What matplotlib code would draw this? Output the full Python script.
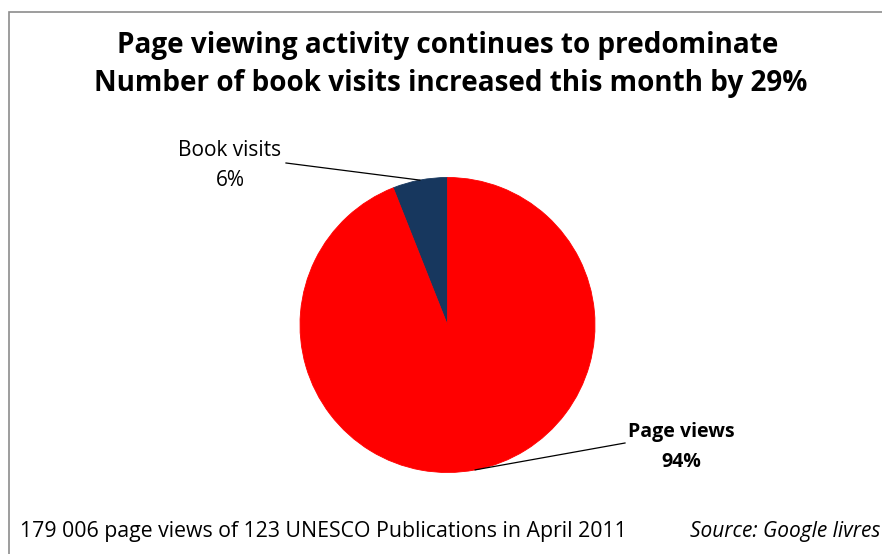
import matplotlib
matplotlib.use("Agg")
import matplotlib.pyplot as plt
import numpy as np
from matplotlib.patches import Rectangle
from matplotlib.lines import Line2D

labels = ["Book visits", "Page views"]
values = [6, 94]
colors = ["#17375E", "#FF0000"]
title_lines = ["Page viewing activity continues to predominate",
               "Number of book visits increased this month by 29%"]
footer_left = "179 006 page views of 123 UNESCO Publications in April 2011"
footer_right = "Source: Google livres"

W, H = 882, 554
fig = plt.figure(figsize=(W / 100, H / 100), dpi=100)
plt.rcParams['font.family'] = ['Open Sans', 'DejaVu Sans']

def fx(px):
    return px / W

def fy(py):
    return 1 - py / H

# border
fig.patches.append(Rectangle((fx(9), fy(600)), 2.0, fy(12) - fy(600),
                             transform=fig.transFigure, fill=False,
                             edgecolor="#8c8c8c", linewidth=1.2))

cx, cy, r = 447.5, 325, 147.5
ax = fig.add_axes([fx(cx - r), fy(cy + r), 2 * r / W, 2 * r / H])
wedges, _ = ax.pie(values, colors=colors, startangle=90, counterclock=True,
                   radius=1, wedgeprops=dict(linewidth=0.6))
for w in wedges:
    w.set_edgecolor(w.get_facecolor())
ax.set_xlim(-1, 1)
ax.set_ylim(-1, 1)
ax.set_aspect("equal")
ax.axis("off")

fig.text(fx(448), fy(45), title_lines[0], ha="center", va="center",
         fontsize=20.1, fontweight="bold")
fig.text(fx(451), fy(84), title_lines[1], ha="center", va="center",
         fontsize=20.1, fontweight="bold")

# labels with leader lines
label_pos = [(230, 150, 181, 286, 163, "normal", 15), (681, 432, 462, 625, 443, "bold", 14)]
for w, lab, v, (lx, ly1, ly2, ex, ey, fw, fs) in zip(wedges, labels, values, label_pos):
    ang = np.deg2rad((w.theta1 + w.theta2) / 2)
    px = cx + r * np.cos(ang)
    py = cy - r * np.sin(ang)
    fig.add_artist(Line2D([fx(px), fx(ex)], [fy(py), fy(ey)],
                          transform=fig.transFigure, color="black", linewidth=0.9))
    fig.text(fx(lx), fy(ly1), lab, ha="center", va="center", fontsize=fs, fontweight=fw)
    fig.text(fx(lx), fy(ly2), f"{v}%", ha="center", va="center", fontsize=fs, fontweight=fw)

fig.text(fx(20), fy(532), footer_left, ha="left", va="center", fontsize=15.3)
fig.text(fx(880), fy(532), footer_right, ha="right", va="center", fontsize=15, style="italic")

fig.savefig("out.png", dpi=100)
